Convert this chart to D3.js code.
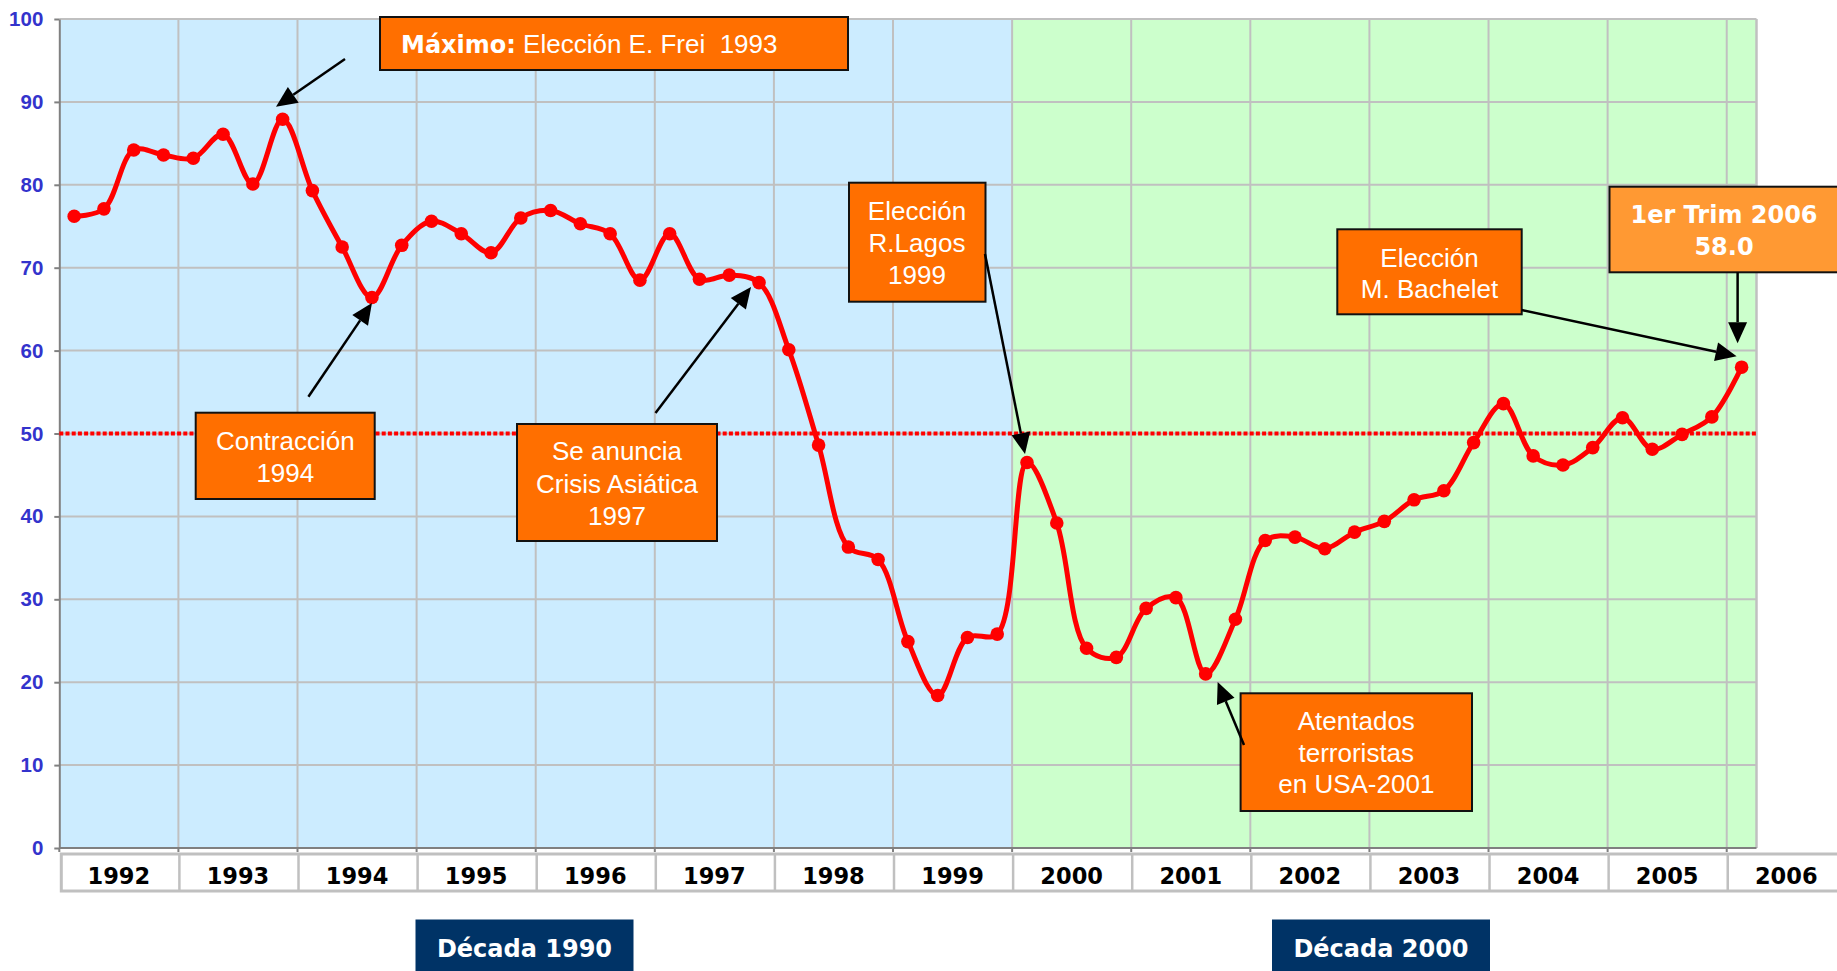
<!DOCTYPE html>
<html>
<head>
<meta charset="utf-8">
<script src="https://cdn.jsdelivr.net/npm/d3@7"></script>
<style>
  body { margin: 0; background: #fff; }
  svg { display: block; }
</style>
</head>
<body>
<div id="chart"></div>
<script>
// Data: quarterly index, 1992 T1 .. 2006 T1
const years = [1992, 1993, 1994, 1995, 1996, 1997, 1998, 1999, 2000, 2001, 2002, 2003, 2004, 2005, 2006]
const quarters = ['T1', 'T2', 'T3', 'T4']
const values = [
  76.2, 77.1, 84.2, 83.6,
  83.2, 86.1, 80.1, 87.9,
  79.3, 72.5, 66.4, 72.7,
  75.6, 74.1, 71.8, 76.0,
  76.9, 75.3, 74.1, 68.5,
  74.1, 68.6, 69.1, 68.2,
  60.1, 48.6, 36.3, 34.8,
  24.9, 18.4, 25.4, 25.8,
  46.5, 39.2, 24.1, 23.0,
  28.9, 30.2, 21.0, 27.6,
  37.1, 37.5, 36.1, 38.1,
  39.4, 42.0, 43.1, 48.9,
  53.6, 47.3, 46.2, 48.3,
  51.9, 48.1, 49.9, 52.0,
  58.0
]
const periods = values.map((v, i) => years[Math.floor(i / 4)] + ' ' + quarters[i % 4])
const yTicks = [0, 10, 20, 30, 40, 50, 60, 70, 80, 90, 100]
const decades = ['Década 1990', 'Década 2000']
const decadeStart = [0, 32]   // quarter index where each decade begins
const threshold = 50

// Create SVG Element
var chart_width  = 1837;
var chart_height = 971;
var plot_left    = 59.3;
var plot_right   = 1756.5;
var plot_top     = 19;
var plot_bottom  = 848;

var svg = d3.select('#chart')
    .append('svg')
    .attr('width', chart_width)
    .attr('height', chart_height);

const x = d3.scaleLinear()
    .domain([0, values.length])
    .range([plot_left, plot_right])

const y = d3.scaleLinear()
    .domain([0, 100])
    .range([plot_bottom, plot_top])

const px = i => x(i + 0.5)
const py = i => y(values[i])

const REG = '"Liberation Sans", Arial, sans-serif'
const BOLD = '"DejaVu Sans", Verdana, sans-serif'

// decade backgrounds
const bgColors = ['#CCECFF', '#CCFFCC']
svg.selectAll('rect.bg')
    .data(decadeStart)
    .enter()
    .append('rect')
    .attr('class', 'bg')
    .attr('x', d => x(d))
    .attr('y', plot_top)
    .attr('width', (d, i) => (i < decadeStart.length - 1 ? x(decadeStart[i + 1]) : plot_right) - x(d))
    .attr('height', plot_bottom - plot_top)
    .attr('fill', (d, i) => bgColors[i])

// grid
svg.selectAll('line.hgrid')
    .data(yTicks.filter(d => d > 0))
    .enter()
    .append('line')
    .attr('x1', plot_left).attr('x2', plot_right)
    .attr('y1', d => y(d)).attr('y2', d => y(d))
    .attr('stroke', '#C0C0C0').attr('stroke-width', 2)

svg.selectAll('line.vgrid')
    .data(years.slice(1))
    .enter()
    .append('line')
    .attr('x1', (d, i) => x((i + 1) * 4)).attr('x2', (d, i) => x((i + 1) * 4))
    .attr('y1', plot_top).attr('y2', plot_bottom)
    .attr('stroke', '#C0C0C0').attr('stroke-width', 2)

svg.append('line')
    .attr('x1', plot_right).attr('x2', plot_right)
    .attr('y1', plot_top).attr('y2', plot_bottom)
    .attr('stroke', '#C0C0C0').attr('stroke-width', 2.5)

// y axis
const yAxis = svg.append('g')
    .attr('transform', `translate(${plot_left},0)`)
    .call(d3.axisLeft(y).tickValues(yTicks).tickSize(5).tickSizeOuter(0).tickPadding(11))
yAxis.select('.domain').attr('stroke', '#808080').attr('stroke-width', 2)
yAxis.selectAll('.tick line').attr('stroke', '#808080').attr('stroke-width', 2)
yAxis.selectAll('.tick text')
    .attr('font-family', REG)
    .attr('font-weight', 'bold')
    .attr('font-size', 20.5)
    .attr('fill', '#3333CC')

// x axis line + ticks
svg.append('line')
    .attr('x1', plot_left).attr('x2', plot_right)
    .attr('y1', plot_bottom).attr('y2', plot_bottom)
    .attr('stroke', '#808080').attr('stroke-width', 2)
svg.selectAll('line.xtick')
    .data(years)
    .enter()
    .append('line')
    .attr('x1', (d, i) => x(i * 4)).attr('x2', (d, i) => x(i * 4))
    .attr('y1', plot_bottom).attr('y2', plot_bottom + 4)
    .attr('stroke', '#808080').attr('stroke-width', 2)

// year label table
svg.append('rect')
    .attr('x', plot_left + 2)
    .attr('y', 854)
    .attr('width', chart_width)
    .attr('height', 37)
    .attr('fill', '#fff')
    .attr('stroke', '#C0C0C0')
    .attr('stroke-width', 3)
svg.selectAll('line.cell')
    .data(years.slice(1))
    .enter()
    .append('line')
    .attr('x1', (d, i) => x((i + 1) * 4) + 1).attr('x2', (d, i) => x((i + 1) * 4) + 1)
    .attr('y1', 854).attr('y2', 891)
    .attr('stroke', '#C0C0C0').attr('stroke-width', 2.5)
svg.selectAll('text.year')
    .data(years)
    .enter()
    .append('text')
    .text(d => d)
    .attr('x', (d, i) => x(i * 4 + 2))
    .attr('y', 884)
    .attr('text-anchor', 'middle')
    .attr('font-family', BOLD)
    .attr('font-weight', 'bold')
    .attr('font-size', 22.5)
    .attr('fill', '#000')

// decade boxes
const decadeBoxCx = [524.5, 1381]
decades.forEach((d, i) => {
    svg.append('rect')
        .attr('x', decadeBoxCx[i] - 109).attr('y', 919.5)
        .attr('width', 218).attr('height', 60)
        .attr('fill', '#003366')
    svg.append('text')
        .text(d)
        .attr('x', decadeBoxCx[i]).attr('y', 957)
        .attr('text-anchor', 'middle')
        .attr('font-family', BOLD).attr('font-weight', 'bold')
        .attr('font-size', 24).attr('fill', '#fff')
})

// 50 reference line
svg.append('line')
    .attr('x1', plot_left).attr('x2', plot_right)
    .attr('y1', y(threshold)).attr('y2', y(threshold))
    .attr('stroke', '#FF0000').attr('stroke-width', 4)
    .attr('stroke-dasharray', '4,2.2')

// series
const line = d3.line()
    .x((d, i) => px(i))
    .y(d => y(d))
    .curve(d3.curveCatmullRom.alpha(0.5))

svg.append('path')
    .datum(values)
    .attr('d', line)
    .attr('fill', 'none')
    .attr('stroke', '#FF0000')
    .attr('stroke-width', 5)
    .attr('stroke-linejoin', 'round')

svg.selectAll('circle')
    .data(values)
    .enter()
    .append('circle')
    .attr('cx', (d, i) => px(i))
    .attr('cy', d => y(d))
    .attr('r', 6.8)
    .attr('fill', '#FF0000')
    .append('title').text((d, i) => periods[i] + ': ' + d)

// annotations
function arrow(x1, y1, x2, y2) {
    const len = 21, half = 9.5
    const a = Math.atan2(y2 - y1, x2 - x1)
    const bx = x2 - len * Math.cos(a), by = y2 - len * Math.sin(a)
    svg.append('line')
        .attr('x1', x1).attr('y1', y1).attr('x2', bx).attr('y2', by)
        .attr('stroke', '#000').attr('stroke-width', 2.5)
    svg.append('polygon')
        .attr('points', [[x2, y2], [bx + half * Math.sin(a), by - half * Math.cos(a)], [bx - half * Math.sin(a), by + half * Math.cos(a)]].join(' '))
        .attr('fill', '#000')
}

function box(x0, y0, w, h, fill) {
    svg.append('rect')
        .attr('x', x0).attr('y', y0).attr('width', w).attr('height', h)
        .attr('fill', fill).attr('stroke', '#111').attr('stroke-width', 2)
}

function lines(cx, baselines, texts, font, size, weight) {
    texts.forEach((t, k) => {
        svg.append('text')
            .text(t)
            .attr('x', cx).attr('y', baselines[k])
            .attr('text-anchor', 'middle')
            .attr('font-family', font).attr('font-size', size)
            .attr('font-weight', weight).attr('fill', '#fff')
    })
}

const ORANGE = '#FF6F00'

// Máximo
box(380, 17, 468, 53, ORANGE)
const tMax = svg.append('text')
    .attr('x', 401).attr('y', 53)
    .attr('fill', '#fff')
    .style('white-space', 'pre')
tMax.append('tspan').text('Máximo:')
    .attr('font-family', BOLD).attr('font-weight', 'bold').attr('font-size', 24)
tMax.append('tspan').text(' Elección E. Frei  1993')
    .attr('font-family', REG).attr('font-size', 26)
arrow(345, 59, px(7) - 6.6, py(7) - 12.5)

// Contracción 1994
box(195.7, 412.7, 179, 86.3, ORANGE)
lines(285.3, [450, 481.7], ['Contracción', '1994'], REG, 26, 'normal')
arrow(308.4, 396.7, px(10), py(10) + 5.5)

// Crisis asiática
box(517, 424, 200, 117, ORANGE)
lines(617, [460, 492.5, 524.5], ['Se anuncia', 'Crisis Asiática', '1997'], REG, 26, 'normal')
arrow(655.5, 413, px(23) - 8, py(23) + 4.5)

// R. Lagos
box(849, 182.7, 136.5, 119, ORANGE)
lines(917, [220, 252.3, 283.5], ['Elección', 'R.Lagos', '1999'], REG, 26, 'normal')
arrow(985, 254, px(32) - 2, py(32) - 8.5)

// Atentados
box(1240.6, 693.3, 231.4, 117.7, ORANGE)
lines(1356.3, [730, 761.7, 793.3], ['Atentados', 'terroristas', 'en USA-2001'], REG, 26, 'normal')
arrow(1244, 745, px(38) + 12, py(38) + 8)

// M. Bachelet
box(1337.3, 229.3, 184.4, 85, ORANGE)
lines(1429.5, [266.7, 298.3], ['Elección', 'M. Bachelet'], REG, 26, 'normal')
arrow(1521.7, 310, px(56) - 5, py(56) - 11)

// 1er Trim 2006
const last = values.length - 1
box(1609.5, 186.7, 240, 85.6, '#FF9933')
lines(1724, [222.7, 255], ['1er Trim 2006', values[last].toFixed(1)], BOLD, 24, 'bold')
arrow(px(last) - 4, 272.3, px(last) - 4, py(last) - 24)
</script>
</body>
</html>
